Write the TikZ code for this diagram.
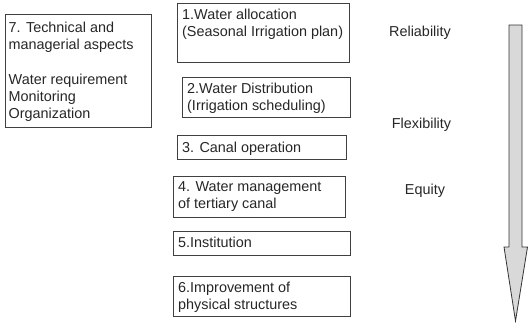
\documentclass[tikz,border=0pt]{standalone}
\usepackage{fontspec}
\setmainfont{Liberation Sans}
\begin{document}
\begin{tikzpicture}[x=1pt,y=-1pt,
  box/.style={draw=black!75,line width=0.9pt,inner sep=0pt,anchor=north west},
  txt/.style={anchor=north west,inner sep=0pt,align=left,text=black!85,
    font={\fontsize{14.4}{17.3}\selectfont}},
  lbl/.style={inner sep=0pt,text=black!85,font={\fontsize{14.4}{17}\selectfont}}]
\useasboundingbox (0,0) rectangle (530,322);
% boxes
\node[box,minimum width=146pt,minimum height=113pt] (b7) at (5,14) {};
\node[box,minimum width=172pt,minimum height=59pt] (b1) at (177,3) {};
\node[box,minimum width=168pt,minimum height=40pt] (b2) at (182,77) {};
\node[box,minimum width=169pt,minimum height=24pt] (b3) at (177,135) {};
\node[box,minimum width=172pt,minimum height=41pt] (b4) at (173,176) {};
\node[box,minimum width=177pt,minimum height=24pt] (b5) at (173,231) {};
\node[box,minimum width=177pt,minimum height=40pt] (b6) at (173,276) {};
% texts
\node[txt] (t7) at (8.5,21.5) {7. Technical and\\managerial aspects\\[17.3pt]Water requirement\\Monitoring\\Organization};
\node[txt] (t1) at (182,8.5) {1.Water allocation\\(Seasonal Irrigation plan)};
\node[txt] (t2) at (187,82.5) {2.Water Distribution\\(Irrigation scheduling)};
\node[txt] (t3) at (182,141.5) {3. Canal operation};
\node[txt] (t4) at (178,181.5) {4. Water management\\of tertiary canal};
\node[txt] (t5) at (178,236.5) {5.Institution};
\node[txt] (t6) at (178,281.5) {6.Improvement of\\physical structures};
% side labels
\node[lbl] (rel) at (420,33) {Reliability};
\node[lbl] (flex) at (421.5,125) {Flexibility};
\node[lbl] (eq) at (425,191) {Equity};
% big arrow
\draw[fill=black!15,draw=black!80,line width=0.8pt,line join=miter]
  (509,25) -- (522,25) -- (522,247) -- (527.5,247) -- (515.5,321)
  -- (504,247) -- (509,247) -- cycle;
\end{tikzpicture}
\end{document}
